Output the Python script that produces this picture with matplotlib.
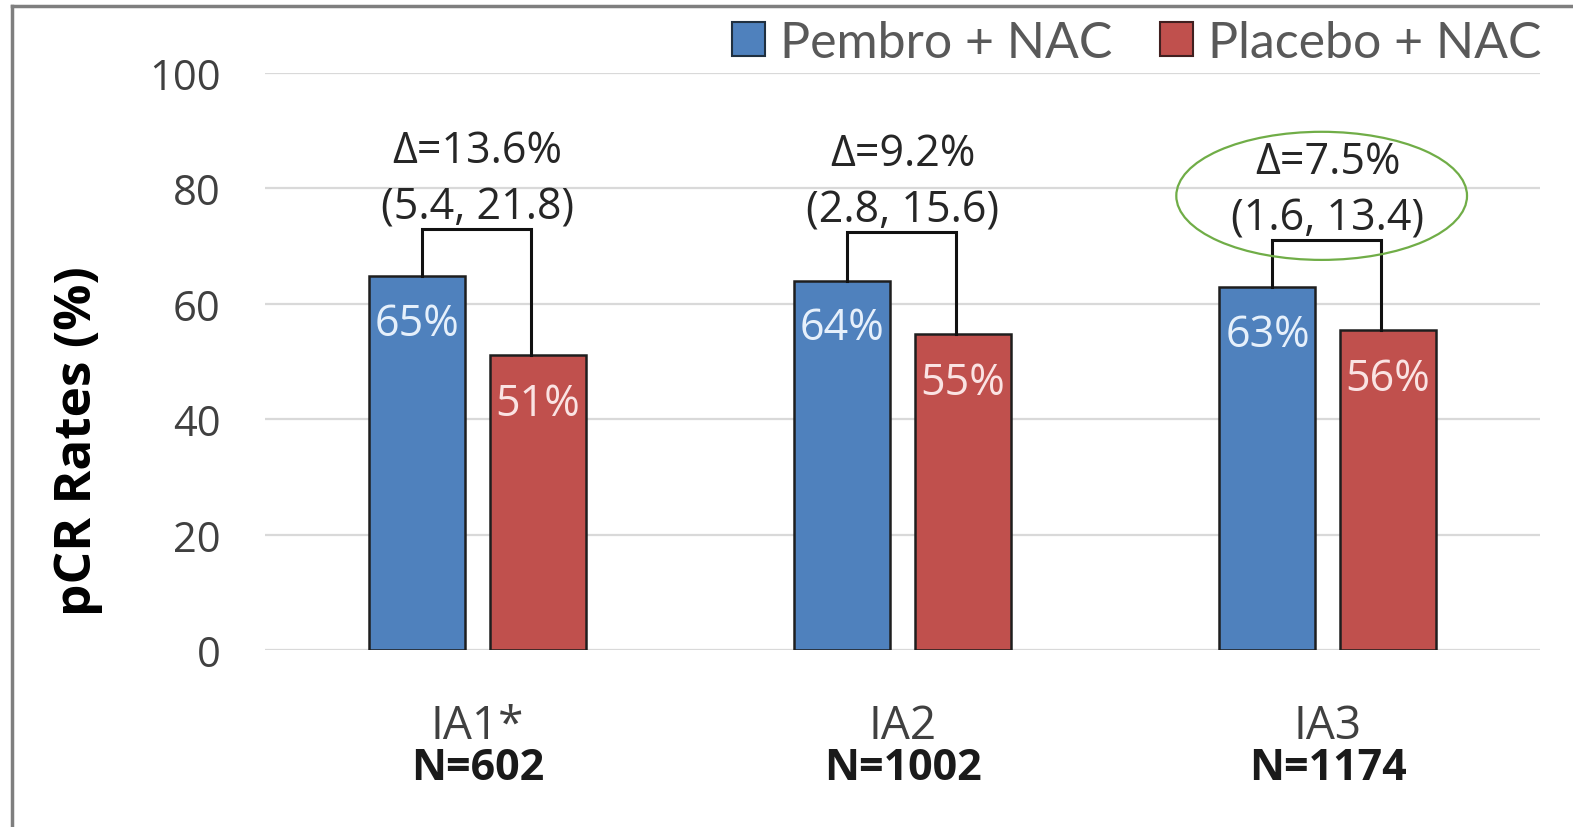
import matplotlib.pyplot as plt
from matplotlib.patches import Ellipse, Patch
from matplotlib.lines import Line2D
import numpy as np

plt.rcParams['font.family'] = ['Open Sans', 'DejaVu Sans']

groups = ['IA1*', 'IA2', 'IA3']
group_n = ['N=602', 'N=1002', 'N=1174']
pembro = [64.8, 64.0, 62.9]
placebo = [51.2, 54.8, 55.5]
pembro_labels = ['65%', '64%', '63%']
placebo_labels = ['51%', '55%', '56%']
deltas = ['\u0394=13.6%', '\u0394=9.2%', '\u0394=7.5%']
ci = ['(5.4, 21.8)', '(2.8, 15.6)', '(1.6, 13.4)']
bracket_top = [73.0, 72.4, 71.0]
series_names = ['Pembro + NAC', 'Placebo + NAC']

blue = '#4f81bd'
red = '#c0504d'
edge = '#1e1e1e'
text_gray = '#404040'

fig = plt.figure(figsize=(15.73, 8.28), dpi=100)
ax = fig.add_axes([0.1685, 0.2138, 0.8106, 0.6969])

x = np.arange(len(groups))
w = 0.226
off = 0.1415

ax.bar(x - off, pembro, w, color=blue, edgecolor=edge, linewidth=1.8, zorder=3)
ax.bar(x + off, placebo, w, color=red, edgecolor=edge, linewidth=1.8, zorder=3)

for i in range(len(groups)):
    ax.text(x[i] - off, pembro[i] - 8.2, pembro_labels[i], ha='center', va='center',
            fontsize=31, color='#e6f0fb', zorder=4)
    ax.text(x[i] + off, placebo[i] - 8.5, placebo_labels[i], ha='center', va='center',
            fontsize=31, color='#fae3e3', zorder=4)
    # bracket between the two bars
    xl = x[i] - off + 0.01
    xr = x[i] + off - 0.015
    ax.plot([xl, xl, xr, xr], [pembro[i], bracket_top[i], bracket_top[i], placebo[i]],
            color='#111111', linewidth=2.2, zorder=4, solid_joinstyle='miter')
    ax.text(x[i], bracket_top[i] + 13.6, deltas[i], ha='center', va='center',
            fontsize=31, color='#262626', zorder=5)
    ax.text(x[i], bracket_top[i] + 3.8, ci[i], ha='center', va='center',
            fontsize=31, color='#262626', zorder=5)

# green ellipse around the IA3 delta
ax.add_patch(Ellipse((1.986, 78.7), 0.684, 22.2, fill=False, edgecolor='#70ad47',
                     linewidth=1.6, zorder=6, clip_on=False))

ax.set_xlim(-0.5, 2.5)
ax.set_ylim(0, 100)
ax.set_yticks([0, 20, 40, 60, 80, 100])
ax.tick_params(axis='y', length=0, pad=32, labelsize=30, labelcolor=text_gray)
ax.set_xticks([])
ax.yaxis.grid(True, color='#d9d9d9', linewidth=1.6, zorder=0)
ax.set_axisbelow(True)
for s in ax.spines.values():
    s.set_visible(False)

for i in range(len(groups)):
    ax.text(x[i], -13.2, groups[i], ha='center', va='center', fontsize=33,
            color=text_gray, clip_on=False)
    ax.text(x[i], -20.4, group_n[i], ha='center', va='center', fontsize=31,
            fontweight='bold', color='#1a1a1a', clip_on=False)

fig.text(78 / 1573, 1 - 441 / 828, 'pCR Rates (%)', rotation=90, ha='center', va='center',
         fontsize=37, fontweight='bold', color='black')

handles = [Patch(facecolor=blue, edgecolor='#203040', linewidth=1.5),
           Patch(facecolor=red, edgecolor='#402020', linewidth=1.5)]
fig.legend(handles, series_names, loc='center right', bbox_to_anchor=(0.98, 0.947),
           ncol=2, frameon=False, labelcolor='#595959',
           prop={'family': ['Lato', 'DejaVu Sans'], 'size': 36},
           handlelength=0.66, handleheight=0.66, handletextpad=0.3, columnspacing=0.95,
           borderaxespad=0, borderpad=0)

# outer frame (left and top edges)
fig.add_artist(Line2D([12 / 1573, 12 / 1573], [0, 1 - 7 / 828], color='#7f7f7f',
                      linewidth=2.5, transform=fig.transFigure))
fig.add_artist(Line2D([12 / 1573, 1], [1 - 7 / 828, 1 - 7 / 828], color='#7f7f7f',
                      linewidth=2.5, transform=fig.transFigure))

fig.savefig('out.png', dpi=100)
